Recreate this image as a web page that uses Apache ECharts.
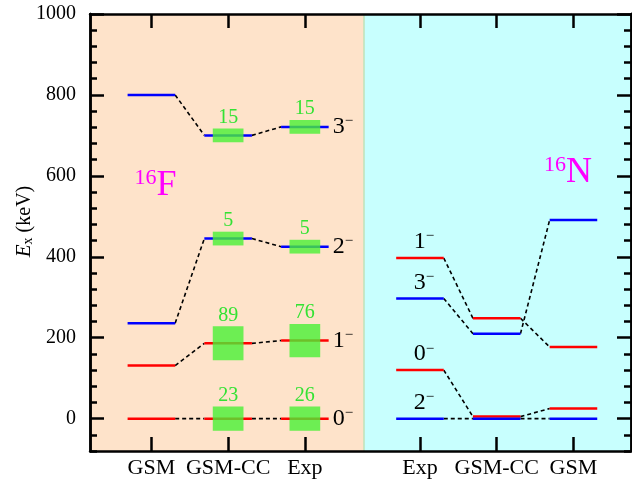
<!DOCTYPE html>
<html>
<head>
<meta charset="utf-8">
<script src="https://cdn.jsdelivr.net/npm/echarts@6/dist/echarts.min.js"></script>
<style>html,body{margin:0;padding:0;background:#fff;}#c{width:632px;height:480px;}</style>
</head>
<body>
<div id="c"></div>
<script>
// ---------------- data ----------------
const leftCats = ['GSM', 'GSM-CC', 'Exp'];      // 16F side
const rightCats = ['Exp', 'GSM-CC', 'GSM'];     // 16N side
const spinLabels = ['0', '1', '2', '3'];        // J^pi = n^-
// 16F energies (keV), order: GSM, GSM-CC, Exp
const F16_0m = [0, 0, 0];
const F16_1m = [131, 186, 193];
const F16_2m = [236, 445, 425];
const F16_3m = [800, 700, 721];
// 16F widths (keV) for 0-, 1-, 2-, 3-
const F16_width_gsmcc = [23, 89, 5, 15];
const F16_width_exp = [26, 76, 5, 15];
// 16N energies (keV), order: Exp, GSM-CC, GSM
const N16_0m = [120, 5, 25];
const N16_1m = [397, 248, 177];
const N16_2m = [0, 0, 0];
const N16_3m = [297, 210, 491];
// axis ticks
const yTicks = [0, 200, 400, 600, 800, 1000];

// ---------------- style / layout ----------------
const SERIF = 'Liberation Serif';
const RED = '#ff0000', BLUE = '#0000ff';
const spinColor = [RED, RED, BLUE, BLUE];
const LEVEL_HALF = 0.31;
const BOX_HALF_X = 0.2;
const boxHalfGsmcc = [30, 42, 17, 17];   // drawn half-height of width boxes (keV)
const boxHalfExp = [30, 41, 17, 17];
const X_MIN = 0.2, X_MAX = 7.25, X_SPLIT = 3.77;
const Y_MIN = -80, Y_MAX = 1000;

const leftX = leftCats.map((_, i) => i + 1);
const rightX = rightCats.map((_, i) => 4.5 + i);
const xTickVals = leftX.concat(rightX);
const nameMap = {};
leftCats.forEach((c, i) => nameMap[leftX[i]] = c);
rightCats.forEach((c, i) => nameMap[rightX[i]] = c);

const F16 = [F16_0m, F16_1m, F16_2m, F16_3m];
const N16 = [N16_0m, N16_1m, N16_2m, N16_3m];

const levels = [];
const connectors = [];
F16.forEach((arr, s) => {
  arr.forEach((e, i) => levels.push([leftX[i], e, s]));
  for (let i = 0; i < arr.length - 1; i++)
    connectors.push([leftX[i] + LEVEL_HALF, arr[i], leftX[i + 1] - LEVEL_HALF, arr[i + 1]]);
});
N16.forEach((arr, s) => {
  arr.forEach((e, i) => levels.push([rightX[i], e, s]));
  for (let i = 0; i < arr.length - 1; i++)
    connectors.push([rightX[i] + LEVEL_HALF, arr[i], rightX[i + 1] - LEVEL_HALF, arr[i + 1]]);
});
const boxes = [];
F16.forEach((arr, s) => {
  boxes.push([leftX[1], arr[1], boxHalfGsmcc[s], F16_width_gsmcc[s]]);
  boxes.push([leftX[2], arr[2], boxHalfExp[s], F16_width_exp[s]]);
});
const spinItems = [];
F16.forEach((arr, s) => spinItems.push([leftX[2] + LEVEL_HALF, arr[2], s, 0]));
N16.forEach((arr, s) => spinItems.push([rightX[0], arr[0], s, 1]));

const spinRich = {
  n: {fontSize: 24, fontFamily: SERIF, lineHeight: 26, fill: '#000'},
  m: {fontSize: 15, fontFamily: SERIF, lineHeight: 10, verticalAlign: 'top', fill: '#000'}
};
const nucRich = {
  a: {fontSize: 22, fontFamily: SERIF, lineHeight: 12, verticalAlign: 'top', fill: '#ff00ff'},
  b: {fontSize: 36, fontFamily: SERIF, lineHeight: 36, fill: '#ff00ff'}
};

const chart = echarts.init(document.getElementById('c'));

function axLine() { return {show: true, onZero: false, lineStyle: {color: '#000', width: 2.5}}; }
function xAx(pos, labels) {
  return {
    type: 'value', min: X_MIN, max: X_MAX, position: pos, z: 10,
    axisLine: axLine(),
    axisTick: {show: true, inside: true, length: 14, lineStyle: {color: '#000', width: 2.5}, customValues: xTickVals},
    axisLabel: labels ? {show: true, customValues: xTickVals, formatter: v => nameMap[v] || '', color: '#000', fontFamily: SERIF, fontSize: 22, margin: 6} : {show: false},
    splitLine: {show: false}
  };
}
function yMajor(pos, labels) {
  const ax = {
    type: 'value', min: Y_MIN, max: Y_MAX, position: pos, z: 10,
    axisLine: axLine(),
    axisTick: {show: true, inside: true, length: 14, lineStyle: {color: '#000', width: 2.5}, customValues: yTicks},
    axisLabel: labels ? {show: true, customValues: yTicks, formatter: v => String(v), color: '#000', fontFamily: SERIF, fontSize: 20, margin: 14} : {show: false},
    splitLine: {show: false}
  };
  if (labels) {
    ax.name = '{i|E}{s|x}{n| (keV)}';
    ax.nameLocation = 'middle';
    ax.nameRotate = 90;
    ax.nameGap = 55;
    ax.nameMoveOverlap = false;
    ax.nameTextStyle = {
      padding: [0, 0, 0, 22],
      rich: {
        i: {fontSize: 21, fontFamily: SERIF, fontStyle: 'italic', color: '#000'},
        s: {fontSize: 14, fontFamily: SERIF, color: '#000', verticalAlign: 'bottom', lineHeight: 14},
        n: {fontSize: 20, fontFamily: SERIF, color: '#000'}
      }
    };
  }
  return ax;
}
function yMinor(pos) {
  return {
    type: 'value', min: Y_MIN, max: Y_MAX, interval: 40, position: pos, z: 10,
    axisLine: axLine(),
    axisTick: {show: true, inside: true, length: 7, lineStyle: {color: '#000', width: 2.5}},
    axisLabel: {show: false}, splitLine: {show: false}
  };
}

const option = {
  animation: false,
  backgroundColor: '#fff',
  grid: {left: 90, right: 1, top: 14, bottom: 29, containLabel: false, outerBoundsMode: 'none'},
  xAxis: [xAx('bottom', true), xAx('top', false)],
  yAxis: [yMajor('left', true), yMinor('left'), yMajor('right', false), yMinor('right')],
  series: [
    {
      type: 'custom', name: 'levels', data: levels, encode: {x: 0, y: 1}, z: 3,
      renderItem: (params, api) => {
        const x = api.value(0), y = api.value(1), s = api.value(2);
        const p1 = api.coord([x - LEVEL_HALF, y]), p2 = api.coord([x + LEVEL_HALF, y]);
        return {type: 'line', shape: {x1: p1[0], y1: p1[1], x2: p2[0], y2: p2[1]}, style: {stroke: spinColor[s], lineWidth: 2.5}};
      },
      markArea: {
        silent: true,
        data: [
          [{xAxis: X_MIN, itemStyle: {color: '#fee3ca'}}, {xAxis: X_SPLIT}],
          [{xAxis: X_SPLIT, itemStyle: {color: '#c8fffe'}}, {xAxis: X_MAX}]
        ]
      },
      markLine: {
        silent: true, symbol: 'none', label: {show: false},
        lineStyle: {color: '#bfe2b8', width: 1.5, type: 'solid'},
        data: [{xAxis: X_SPLIT}]
      }
    },
    {
      type: 'custom', name: 'connectors', data: connectors, encode: {x: [0, 2], y: [1, 3]}, z: 2,
      renderItem: (params, api) => {
        const p1 = api.coord([api.value(0), api.value(1)]), p2 = api.coord([api.value(2), api.value(3)]);
        return {type: 'line', shape: {x1: p1[0], y1: p1[1], x2: p2[0], y2: p2[1]}, style: {stroke: '#000', lineWidth: 1.6, lineDash: [4, 3]}};
      }
    },
    {
      type: 'custom', name: 'widths', data: boxes, encode: {x: 0, y: 1}, z: 4,
      renderItem: (params, api) => {
        const x = api.value(0), y = api.value(1), h = api.value(2), w = api.value(3);
        const tl = api.coord([x - BOX_HALF_X, y + h]), br = api.coord([x + BOX_HALF_X, y - h]);
        return {type: 'group', children: [
          {type: 'rect', shape: {x: tl[0], y: tl[1], width: br[0] - tl[0], height: br[1] - tl[1]}, style: {fill: 'rgba(72,240,52,0.8)'}},
          {type: 'text', style: {text: String(w), x: (tl[0] + br[0]) / 2, y: tl[1] - 1, align: 'center', verticalAlign: 'bottom', fontSize: 20, fontFamily: SERIF, fill: '#33e233'}}
        ]};
      }
    },
    {
      type: 'custom', name: 'spins', data: spinItems, encode: {x: 0, y: 1}, z: 5,
      renderItem: (params, api) => {
        const p = api.coord([api.value(0), api.value(1)]);
        const s = api.value(2), side = api.value(3);
        const txt = '{n|' + spinLabels[s] + '}{m|\u2212}';
        if (side === 0) {
          return {type: 'text', style: {text: txt, rich: spinRich, x: p[0] + 4, y: p[1], align: 'left', verticalAlign: 'middle'}};
        }
        return {type: 'text', style: {text: txt, rich: spinRich, x: p[0] + 4, y: p[1] - 3, align: 'center', verticalAlign: 'bottom'}};
      }
    },
    {
      type: 'custom', name: 'nuclei', data: [[0.78, 532, 0], [6.115, 564, 1]], encode: {x: 0, y: 1}, z: 5,
      renderItem: (params, api) => {
        const p = api.coord([api.value(0), api.value(1)]);
        const txt = api.value(2) === 0 ? '{a|16}{b|F}' : '{a|16}{b|N}';
        return {type: 'text', style: {text: txt, rich: nucRich, x: p[0], y: p[1], align: 'left', verticalAlign: 'bottom'}};
      }
    }
  ]
};
chart.setOption(option);
</script>
</body>
</html>
